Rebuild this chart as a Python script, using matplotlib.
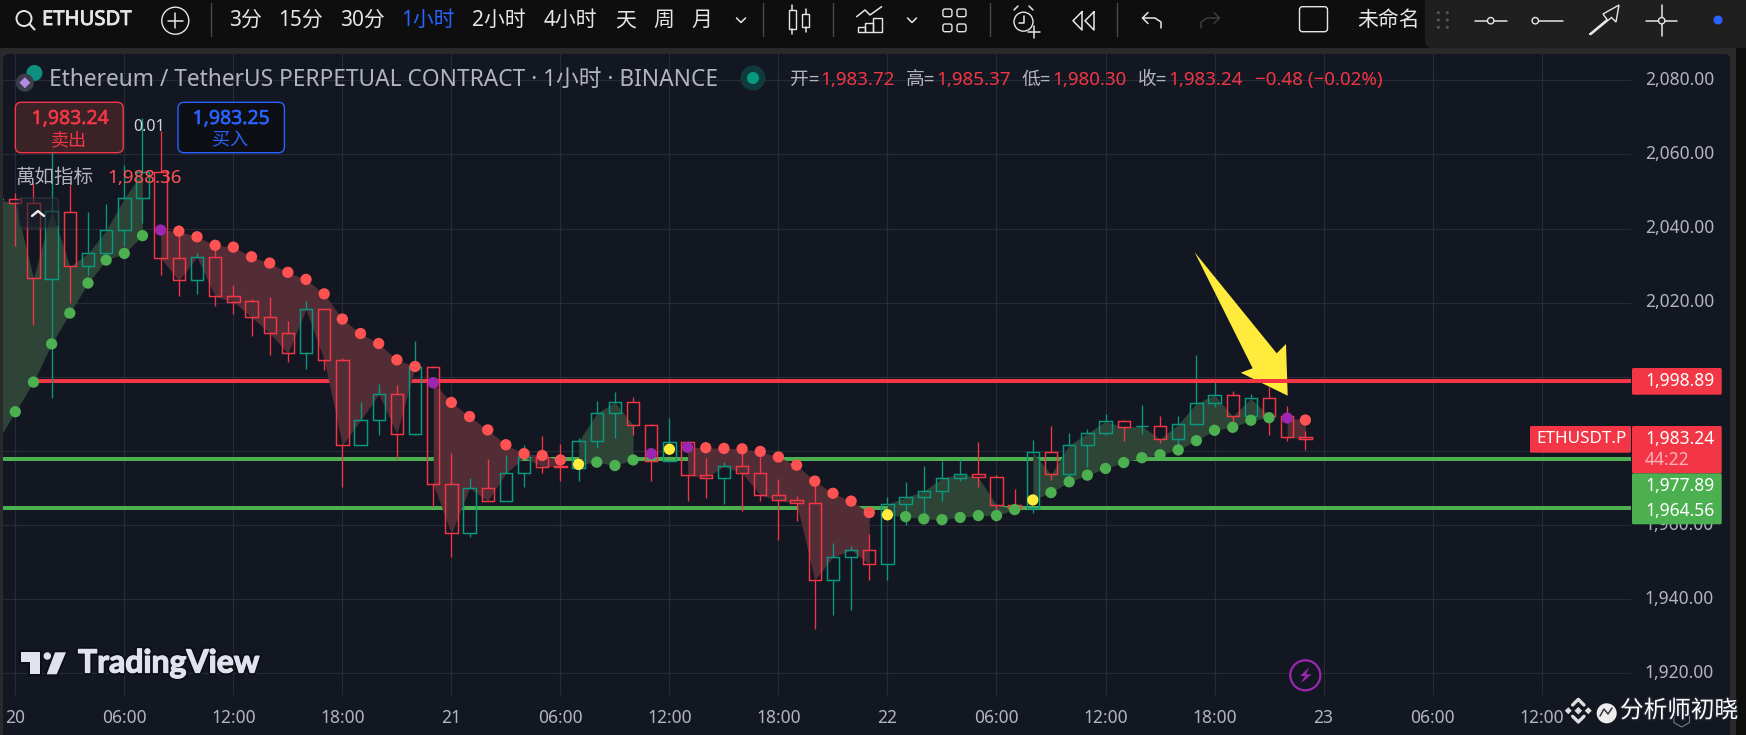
import matplotlib
matplotlib.use("Agg")
import matplotlib.pyplot as plt
import matplotlib.patheffects as pe
from matplotlib.patches import Circle, FancyBboxPatch, Polygon, Rectangle, RegularPolygon
from matplotlib.transforms import ScaledTranslation

plt.rcParams['font.family'] = ['Noto Sans', 'Noto Sans CJK SC', 'DejaVu Sans']

# hourly bars, 0 = the 20th at 00:00, -1 is the bar just off the left edge
bars = list(range(-1, 72))
opens = [2047.9, 2047.9, 2046.8, 2026.3, 2044.6, 2029.8, 2033.3, 2039.5, 2048.2, 2055.2, 2032.0, 2026.0, 2032.3,
         2021.8, 2020.4, 2016.1, 2011.8, 2006.4, 2018.2, 2004.5, 1981.6, 1988.3, 1995.3, 1984.7, 2002.6, 1971.0,
         1957.8, 1970.0, 1966.6, 1974.0, 1978.3, 1976.0, 1975.5, 1982.6, 1990.2, 1993.2, 1987.0, 1977.3, 1982.4,
         1973.5, 1972.7, 1975.9, 1974.0, 1968.1, 1966.7, 1965.9, 1945.2, 1951.4, 1953.3, 1949.5, 1965.7, 1967.5,
         1969.2, 1972.7, 1973.7, 1972.9, 1965.4, 1964.6, 1979.7, 1973.7, 1981.6, 1984.8, 1988.0, 1986.7, 1986.7,
         1983.2, 1987.2, 1992.9, 1995.1, 1989.4, 1994.2, 1989.4, 1983.72]
highs = [2047.9, 2049.5, 2052.2, 2062.1, 2051.8, 2044.5, 2046.6, 2057.2, 2069.8, 2066.2, 2041.0, 2033.3, 2036.9,
         2024.8, 2021.0, 2021.5, 2015.1, 2020.5, 2018.2, 2005.0, 1993.3, 1998.1, 1997.8, 2009.7, 2003.0, 1979.5,
         1972.8, 1977.9, 1979.0, 1981.7, 1984.1, 1981.9, 1983.5, 1993.5, 1995.9, 1994.6, 1987.3, 1988.9, 1982.7,
         1978.2, 1977.0, 1979.4, 1978.5, 1972.5, 1967.9, 1971.8, 1955.2, 1954.4, 1957.7, 1967.6, 1971.7, 1976.0,
         1977.3, 1977.9, 1982.5, 1973.5, 1969.8, 1983.0, 1986.8, 1984.9, 1986.0, 1990.0, 1988.4, 1992.4, 1989.5,
         1989.5, 2005.9, 1998.9, 1996.2, 1995.4, 1997.2, 1992.2, 1985.37]
lows = [2047.9, 2035.3, 2014.0, 1994.2, 2019.9, 2027.5, 2030.6, 2035.3, 2041.6, 2027.5, 2021.9, 2022.4, 2019.0,
        2017.0, 2011.1, 2006.0, 2003.9, 2002.2, 2001.9, 1970.4, 1981.6, 1984.2, 1977.9, 1984.2, 1964.8, 1951.3,
        1956.9, 1966.4, 1966.4, 1970.4, 1974.2, 1971.8, 1971.8, 1980.9, 1983.6, 1984.2, 1971.8, 1977.3, 1966.6,
        1967.2, 1965.6, 1963.7, 1966.6, 1955.9, 1961.0, 1932.1, 1935.9, 1937.2, 1945.1, 1945.1, 1960.1, 1962.8,
        1966.4, 1971.8, 1970.4, 1961.1, 1963.2, 1963.4, 1972.2, 1972.7, 1975.8, 1984.4, 1982.8, 1984.7, 1982.3,
        1980.8, 1987.2, 1992.0, 1986.4, 1987.0, 1984.2, 1982.6, 1980.30]
closes = [2047.9, 2046.8, 2026.6, 2044.8, 2029.8, 2033.3, 2039.5, 2048.2, 2055.2, 2032.0, 2026.0, 2032.3, 2021.7,
          2020.3, 2016.1, 2011.8, 2006.4, 2018.2, 2004.5, 1981.6, 1988.3, 1995.3, 1984.7, 2002.6, 1971.0, 1957.8,
          1970.0, 1966.6, 1974.0, 1978.3, 1975.8, 1975.8, 1982.6, 1990.2, 1993.2, 1987.0, 1977.3, 1982.4, 1973.5,
          1972.7, 1975.9, 1974.0, 1968.1, 1966.7, 1965.9, 1945.2, 1951.4, 1953.3, 1949.5, 1965.7, 1967.5, 1969.2,
          1972.7, 1973.7, 1972.9, 1965.4, 1964.6, 1979.7, 1973.7, 1981.6, 1984.8, 1988.0, 1986.4, 1986.7, 1983.2,
          1987.2, 1992.9, 1995.1, 1989.4, 1994.2, 1989.4, 1983.7, 1983.24]

# the dotted indicator and what state each dot is in
trail = [1982.5, 1990.6, 1998.6, 2008.9, 2017.2, 2025.3, 2031.5, 2033.3, 2038.1, 2039.6, 2039.3, 2037.8, 2035.5,
         2035.0, 2032.4, 2030.7, 2028.2, 2026.3, 2022.4, 2015.6, 2011.7, 2009.0, 2004.6, 2002.8, 1998.4, 1993.1,
         1989.3, 1985.7, 1981.7, 1979.3, 1978.8, 1977.6, 1976.4, 1977.0, 1976.1, 1977.6, 1979.3, 1980.5, 1981.0,
         1980.9, 1980.7, 1980.6, 1979.9, 1978.4, 1976.2, 1971.9, 1968.6, 1966.5, 1963.4, 1962.8, 1962.3, 1961.7,
         1961.5, 1962.1, 1962.6, 1962.6, 1964.2, 1966.8, 1968.8, 1971.7, 1973.5, 1975.3, 1976.9, 1978.2, 1979.0,
         1980.3, 1982.8, 1985.6, 1986.4, 1988.3, 1989.0, 1988.9, 1988.36]
states = (['up'] * 9 + ['flip'] + ['down'] * 14 + ['flip'] + ['down'] * 7 + ['wait'] + ['up'] * 3 + ['flip', 'wait', 'flip']
          + ['down'] * 10 + ['wait'] + ['up'] * 7 + ['wait'] + ['up'] * 13 + ['flip', 'down'])

# first and last bar of each shaded run
up_runs = [(-1, 7), (31, 34), (48, 55), (56, 69)]
down_runs = [(8, 22), (23, 30), (37, 47), (70, 71)]

resistance = 1998.89
resistance_from = 1
supports = [1977.89, 1964.56]
last_price = 1983.24

price_ticks = [2080, 2060, 2040, 2020, 2000, 1980, 1960, 1940, 1920]
hidden_price_labels = [2000, 1980]  # fully behind the price tags
time_ticks = [0, 6, 12, 18, 24, 30, 36, 42, 48, 54, 60, 66, 72, 78, 84]
time_labels = ['20', '06:00', '12:00', '18:00', '21', '06:00', '12:00', '18:00', '22',
               '06:00', '12:00', '18:00', '23', '06:00', '12:00']

RED = '#F23645'
TEAL = '#089981'
GREEN = '#4CAF50'
BLUE = '#2962FF'
PANEL = '#131722'
TEXT = '#B2B5BE'
TOOL = '#E6E6E6'
DOT_COLORS = {'up': '#4CAF50', 'down': '#FF5252', 'flip': '#9C27B0', 'wait': '#FFEB3B'}

fig = plt.figure(figsize=(17.46, 7.35), dpi=100, facecolor='#0E0E0E')


def pixel_axes(z):
    a = fig.add_axes([0, 0, 1, 1], zorder=z)
    a.set_xlim(0, 1746)
    a.set_ylim(735, 0)
    a.axis('off')
    a.patch.set_alpha(0)
    return a


def box(a, x0, y0, x1, y1, fc, ec='none', r=3, lw=1.0, z=2, alpha=None):
    a.add_patch(FancyBboxPatch((x0, y0), x1 - x0, y1 - y0, boxstyle=f'round,pad=0,rounding_size={r}',
                               fc=fc, ec=ec, lw=lw, zorder=z, alpha=alpha))


def poly_line(a, xs, ys, color=TOOL, lw=1.1, z=3):
    a.plot(xs, ys, color=color, lw=lw, zorder=z, solid_capstyle='round', solid_joinstyle='round')


def heavy(color, width=0.6):
    # the installed fonts come out lighter than the screenshot, so thicken them a little
    return [pe.withStroke(linewidth=width, foreground=color)]


back = pixel_axes(0)
top = pixel_axes(2)

# window frame behind the chart
back.add_patch(Rectangle((0, 48), 1736, 700, fc='#2A2A2A', ec='none'))
box(back, 3, 54, 1730, 760, PANEL, r=6)

# main chart, placed so the price and time scales land where they do on the screenshot
ax = fig.add_axes([3 / 1746, 1 - 695 / 735, 1628 / 1746, 641 / 735], zorder=1)
ax.patch.set_alpha(0)
for s in ax.spines.values():
    s.set_visible(False)
ax.set_xlim(-0.677, 88.92)
ax.set_ylim(1914.2, 2087.09)
ax.set_axisbelow(True)
ax.grid(True, color='#272B36', lw=0.8)
ax.yaxis.tick_right()
ax.set_yticks(price_ticks)
ax.set_yticklabels(['' if p in hidden_price_labels else f'{p:,.2f}' for p in price_ticks], fontsize=12.5, color=TEXT)
ax.set_xticks(time_ticks)
ax.set_xticklabels(time_labels, fontsize=12.5, color=TEXT)
ax.tick_params(axis='both', length=0)
ax.tick_params(axis='y', pad=10)
ax.tick_params(axis='x', pad=10)
nudge_up = ScaledTranslation(0, 1.8 / 72, fig.dpi_scale_trans)
for lab in ax.get_yticklabels():
    lab.set_transform(lab.get_transform() + nudge_up)

# levels sit under the shading, which hides them where it crosses
ax.hlines(resistance, resistance_from, ax.get_xlim()[1], color=RED, lw=2.9, zorder=2)
ax.hlines(supports, ax.get_xlim()[0], ax.get_xlim()[1], color=GREEN, lw=2.9, zorder=2)

for first, last in up_runs + down_runs:
    a, b = bars.index(first), bars.index(last) + 1
    ax.fill_between(bars[a:b], trail[a:b], closes[a:b], lw=0, zorder=3,
                    color='#2E4436' if (first, last) in up_runs else '#532D36')

for x, o, h, l, c in zip(bars, opens, highs, lows, closes):
    col = TEAL if c >= o else RED
    ax.vlines(x, max(o, c), h, color=col, lw=0.95, zorder=4)
    ax.vlines(x, l, min(o, c), color=col, lw=0.95, zorder=4)
    ax.bar(x, abs(c - o), bottom=min(o, c), width=0.68, fc='none', ec=col, lw=1.05, zorder=4)

ax.scatter(bars, trail, s=66, c=[DOT_COLORS[s] for s in states], linewidths=0, zorder=6)

# hand drawn arrow: over the candles, but the red level still crosses it
ax.add_patch(Polygon([(1194.7, 252.3), (1276.7, 353.3), (1286, 344), (1287.7, 395.7), (1240.7, 372.7), (1252.7, 368.3)],
                     closed=True, fc='#FFEB3B', ec='none', transform=top.transData, zorder=5))
ax.hlines(resistance, 63, 71.6, color=RED, lw=2.9, zorder=5.5)

# toolbar
top.add_patch(Rectangle((0, 0), 1746, 48, fc='#0E0E0E', ec='none', zorder=1))
top.add_patch(Circle((24, 18.5), 7.5, fc='none', ec=TOOL, lw=1.4, zorder=3))
poly_line(top, [29.5, 34.5], [24, 29.5], lw=1.5)
top.text(42, 20, 'ETHUSDT', fontsize=14.6, fontweight='bold', color=TOOL, va='center', zorder=3,
         path_effects=heavy(TOOL))
top.add_patch(Circle((175.3, 20.7), 13.5, fc='none', ec=TOOL, lw=1.0, zorder=3))
poly_line(top, [168, 182.6], [20.7, 20.7])
poly_line(top, [175.3, 175.3], [13.4, 28])
for sx in [211, 762.8, 832.6, 990, 1117]:
    poly_line(top, [sx, sx], [3, 36], color='#4A4A4A', lw=1.0)

for cx, label, col in [(245.7, '3分', TOOL), (301, '15分', TOOL), (362.4, '30分', TOOL), (428, '1小时', BLUE),
                       (499, '2小时', TOOL), (570, '4小时', TOOL), (625.5, '天', TOOL), (663.8, '周', TOOL), (702, '月', TOOL)]:
    top.text(cx, 20.5, label, fontsize=15, color=col, ha='center', va='center', zorder=3)
for cx in [741, 912]:
    poly_line(top, [cx - 4.5, cx, cx + 4.5], [18, 22.5, 18])

# candle icon
for cx, b0, b1, w0, w1 in [(792.3, 10, 29, 5, 34), (805.6, 14, 27, 9, 32)]:
    top.add_patch(Rectangle((cx - 3.8, b0), 7.6, b1 - b0, fc='none', ec=TOOL, lw=1.0, zorder=3))
    poly_line(top, [cx, cx], [w0, b0])
    poly_line(top, [cx, cx], [b1, w1])
# bars and trend icon
for x0, x1, y0 in [(857.7, 865, 26.7), (865, 873, 23.3), (873, 881.6, 18.3)]:
    top.add_patch(Rectangle((x0, y0), x1 - x0, 32 - y0, fc='none', ec=TOOL, lw=1.0, zorder=3))
poly_line(top, [856.6, 865, 870, 881.6], [16.7, 10, 15, 6.7])
# layout icon
for x0 in [942.9, 957]:
    for y0 in [9, 24]:
        box(top, x0, y0, x0 + 9, y0 + 7.7, 'none', ec=TOOL, r=2, z=3)
# alarm icon
top.add_patch(Circle((1023.5, 21.7), 9.5, fc='none', ec=TOOL, lw=1.0, zorder=3))
poly_line(top, [1023.5, 1023.5, 1019], [15.5, 23, 23])
poly_line(top, [1014, 1018], [10, 6])
poly_line(top, [1029, 1033], [6, 10])
poly_line(top, [1028, 1040], [31.7, 31.7])
poly_line(top, [1034, 1034], [26, 37.5])
# rewind icon
for x0 in [1073, 1085]:
    poly_line(top, [x0 + 9, x0, x0 + 9, x0 + 9], [11.7, 20.8, 30, 11.7])
# undo / redo
poly_line(top, [1148, 1142.5, 1148], [12.5, 18, 23.5])
poly_line(top, [1142.5, 1155, 1161, 1161], [18, 18, 22, 28])
poly_line(top, [1214, 1219.5, 1214], [12.5, 18, 23.5], color='#3C3C3C')
poly_line(top, [1219.5, 1207, 1201, 1201], [18, 18, 22, 28], color='#3C3C3C')
box(top, 1299.5, 6.7, 1327.5, 31.7, 'none', ec=TOOL, r=3, z=3)
top.text(1357, 20.5, '未命名', fontsize=15, color=TOOL, va='center', zorder=3)

# floating drawing bar
box(top, 1425, -10, 1752, 48, '#1F1F1F', r=7, z=4)
for dx in [1438.3, 1447.3]:
    for dy in [12.7, 20, 27.3]:
        top.add_patch(Circle((dx, dy), 1.5, fc='#55585F', ec='none', zorder=5))
poly_line(top, [1475, 1506.7], [20.7, 20.7], z=5)
top.add_patch(Circle((1490.7, 20.7), 3.2, fc='#1F1F1F', ec=TOOL, lw=1.0, zorder=6))
poly_line(top, [1535.3, 1563.3], [20.7, 20.7], z=5)
top.add_patch(Circle((1535.3, 20.7), 3.2, fc='#1F1F1F', ec=TOOL, lw=1.0, zorder=6))
top.add_patch(Polygon([(1589.3, 34.3), (1607, 19.5), (1603, 14), (1619, 5), (1616, 22), (1611.5, 17.5), (1591, 34.5)],
                      closed=True, fc='none', ec=TOOL, lw=1.0, zorder=5))
poly_line(top, [1646, 1677.4], [20.7, 20.7], z=5)
poly_line(top, [1661.7, 1661.7], [5, 36.4], z=5)
top.add_patch(Circle((1661.7, 20.7), 3.2, fc='#1F1F1F', ec=TOOL, lw=1.0, zorder=6))
top.add_patch(Circle((1718, 20), 4.5, fc=BLUE, ec='none', zorder=5))

# legend row
top.add_patch(Circle((34.4, 73), 8, fc='#0F8F80', ec='none', zorder=3))
top.add_patch(Circle((24.9, 82.7), 9, fc='#3A3E48', ec='none', zorder=3))
top.add_patch(RegularPolygon((24.9, 82.7), 4, radius=5.5, fc='#B58BE0', ec='none', zorder=4))
top.text(49, 80, 'Ethereum / TetherUS PERPETUAL CONTRACT · 1小时 · BINANCE', fontsize=16.35, color=TEXT, va='center', zorder=3)
top.add_patch(Circle((753, 78), 12.5, fc='#0F3B3C', ec='none', zorder=3))
top.add_patch(Circle((753, 78), 6, fc=TEAL, ec='none', zorder=4))
ohlc_names = ['开=', '高=', '低=', '收=']
ohlc_values = [opens[-1], highs[-1], lows[-1], closes[-1]]
for nx, vx, name, val in zip([789.8, 906, 1022, 1138], [820, 936, 1052, 1168], ohlc_names, ohlc_values):
    top.text(nx, 79.5, name, fontsize=13.5, color=TEXT, va='center', zorder=3)
    top.text(vx, 79.5, f'{val:,.2f}', fontsize=13.5, color=RED, va='center', zorder=3)
top.text(1254.6, 79.5, '−0.48 (−0.02%)', fontsize=13.5, color=RED, va='center', zorder=3)

# sell / buy buttons
box(top, 15.3, 102.3, 123.2, 152.7, '#3A2226', ec=RED, r=6)
top.text(70, 119, f'{last_price:,.2f}', fontsize=14, color=RED, ha='center', va='center', zorder=3, path_effects=heavy(RED, 0.4))
top.text(69, 140.5, '卖出', fontsize=13, color=RED, ha='center', va='center', zorder=3)
box(top, 178, 102.3, 284.4, 152.7, '#0D0F14', ec=BLUE, r=6)
top.text(231, 119, '1,983.25', fontsize=14, color=BLUE, ha='center', va='center', zorder=3, path_effects=heavy(BLUE, 0.4))
top.text(230, 140.5, '买入', fontsize=13, color=BLUE, ha='center', va='center', zorder=3)
top.text(149.6, 126.7, '0.01', fontsize=11.5, color='#D1D4DC', ha='center', va='center', zorder=3)

top.text(16, 178, '萬如指标', fontsize=14, color=TEXT, va='center', zorder=3)
top.text(107, 178, f'{trail[-1]:,.2f}', fontsize=13.5, color='#FF5252', va='center', zorder=3)
box(top, 18, 198, 58.5, 228, '#1E222D', ec='#3A3E48', r=4, alpha=0.6)
poly_line(top, [32, 38, 44], [216, 211, 216], color='#F0F0F0', lw=1.7)

# price tags on the scale
for y0, y1, col in [(368, 394.7, RED), (426, 473.3, RED), (473.3, 524.3, GREEN)]:
    box(top, 1632, y0, 1721.7, y1, col, r=1.5)
box(top, 1530, 426, 1631, 452.7, RED, r=1.5)
for y, val in [(381, resistance), (439.3, last_price), (486, supports[0]), (510.7, supports[1])]:
    top.text(1645, y, f'{val:,.2f}', fontsize=12.5, color='white', va='center', zorder=3)
top.text(1645, 460, '44:22', fontsize=12.5, color='#F9B3BA', va='center', zorder=3)
top.text(1536.5, 439.3, 'ETHUSDT.P', fontsize=12.3, color='white', va='center', zorder=3)

# TradingView mark
outline = '#0C0F16'
mark = [pe.withStroke(linewidth=3, foreground=outline)]
for pts in [[(20.7, 652.3), (40, 652.3), (40, 674.3), (30, 674.3), (30, 661.7), (20.7, 661.7)],
            [(55, 652.3), (66, 652.3), (56.7, 674.3), (46.7, 674.3)]]:
    top.add_patch(Polygon(pts, closed=True, fc='#E0E3EB', ec='none', zorder=3, path_effects=mark))
top.add_patch(Circle((47.3, 656), 3.7, fc='#E0E3EB', ec='none', zorder=3))
top.text(78, 663, 'TradingView', fontsize=23, fontfamily='Lato', fontweight='bold', color='#E0E3EB', va='center', zorder=3,
         path_effects=[pe.withStroke(linewidth=3.4, foreground=outline), pe.withStroke(linewidth=0.9, foreground='#E0E3EB')])

# lightning badge
top.add_patch(Circle((1305.3, 675.3), 15, fc=PANEL, ec='#9C27B0', lw=1.6, zorder=3))
top.add_patch(Polygon([(1309.3, 667.3), (1300, 676), (1305, 676), (1300.7, 683.3), (1311.7, 674.3), (1306, 674.3)],
                      closed=True, fc='#9C27B0', ec='none', zorder=4))

# site watermark
wm = [pe.withStroke(linewidth=2, foreground='#20242E')]
for cx, cy, rad in [(1568.3, 710.7, 3.5), (1588.3, 710.7, 3.5), (1578.3, 710.7, 3.8)]:
    top.add_patch(RegularPolygon((cx, cy), 4, radius=rad, fc='#DDDDDD', ec='none', zorder=4))
poly_line(top, [1572.6, 1578.3, 1584], [705, 699.3, 705], color='#DDDDDD', lw=2.4, z=4)
poly_line(top, [1572.6, 1578.3, 1584], [716.3, 722, 716.3], color='#DDDDDD', lw=2.4, z=4)
top.add_patch(Circle((1606.7, 713.3), 10, fc='#EDEDED', ec='none', zorder=4))
poly_line(top, [1600, 1604, 1608, 1612], [716, 709, 714, 708], color='#30333C', lw=1.1, z=5)
top.add_patch(RegularPolygon((1681.7, 718), 6, radius=9, fc='none', ec='#777A82', lw=0.8, zorder=3))
top.text(1620, 711.5, '分析师初晓', fontsize=17, color='white', va='center', zorder=4, path_effects=wm)

fig.savefig('out.png', dpi=100, facecolor=fig.get_facecolor())
